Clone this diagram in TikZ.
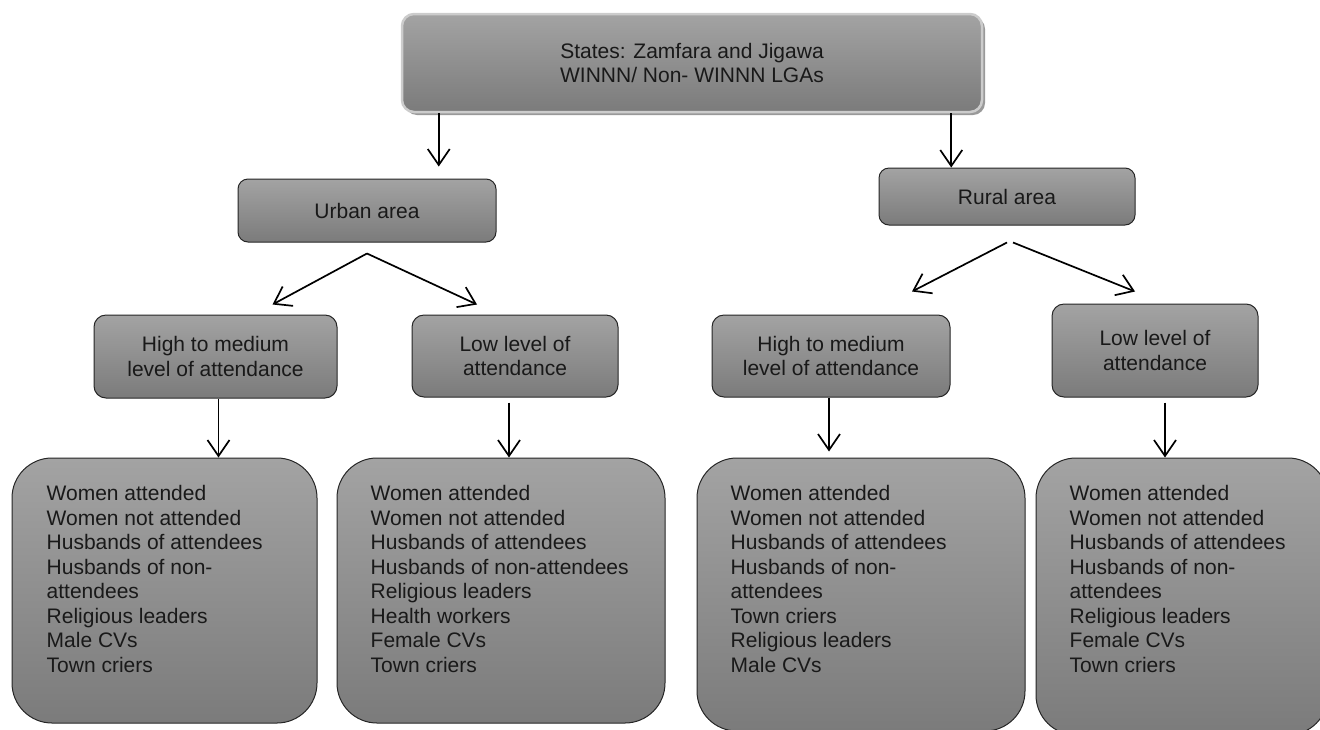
\documentclass[tikz,border=0pt]{standalone}
\usepackage{fontspec}
\setmainfont{Liberation Sans}
\usetikzlibrary{
  arrows.meta, % For arrow tips
  shadows % For the shadow of the top box
}
\definecolor{boxtop}{HTML}{A3A3A3}
\definecolor{boxbottom}{HTML}{7B7B7B}
\newcommand{\boxfont}{\fontsize{21}{24.5}\selectfont}

\begin{document}
\begin{tikzpicture}[
    x=1pt, y=-1pt, % pixel units, y downwards
    >={Straight Barb[length=16pt, width=22pt]}, % Default arrow tip
    arr/.style={->, line width=1.7pt}, % Style for the arrows
    box/.style={draw=black!85, line width=1pt, top color=boxtop,
      bottom color=boxbottom, rounded corners=12pt, align=center,
      font=\boxfont, text=black!90, inner sep=0pt},
    headbox/.style={box, draw=black!20, line width=2.5pt,
      drop shadow={shadow xshift=3pt, shadow yshift=-3pt, fill=black!40, opacity=1}},
    listbox/.style={box, rounded corners=40pt},
    listtext/.style={anchor=north west, align=left, font=\boxfont,
      text=black!90, inner sep=0pt},
  ]
    \useasboundingbox (0,0) rectangle (1320,729);
    % Kopf
    \node[headbox, minimum width=580pt, minimum height=98pt] (states) at (692,63)
      {States: Zamfara and Jigawa\\WINNN/ Non- WINNN LGAs};
    % Gebiete
    \node[box, rounded corners=10pt, minimum width=258pt, minimum height=63pt]
      (urban) at (367,210.5) {Urban area};
    \node[box, rounded corners=10pt, minimum width=256pt, minimum height=57pt]
      (rural) at (1007,196.5) {Rural area};
    % Teilnahme
    \node[box, minimum width=243pt, minimum height=83pt] (uhigh) at (215.5,356.5)
      {High to medium\\level of attendance};
    \node[box, minimum width=206pt, minimum height=82pt] (ulow) at (515,356)
      {Low level of\\attendance};
    \node[box, minimum width=238pt, minimum height=82pt] (rhigh) at (831,356)
      {High to medium\\level of attendance};
    \node[box, minimum width=206pt, minimum height=93pt] (rlow) at (1155,350.5)
      {Low level of\\attendance};
    % Listen
    \node[listbox, minimum width=305pt, minimum height=265pt] (ulist1) at (164.5,590.5) {};
    \node[listbox, minimum width=328pt, minimum height=265pt] (ulist2) at (501,590.5) {};
    \node[listbox, minimum width=328pt, minimum height=273pt] (rlist1) at (861,594.5) {};
    \node[listbox, minimum width=292pt, minimum height=277pt] (rlist2) at (1182,596.5) {};
    \node[listtext] (ulist1txt) at ([shift={(35,28)}]ulist1.north west)
      {Women attended\\Women not attended\\Husbands of attendees\\Husbands of non-\\attendees\\Religious leaders\\Male CVs\\Town criers};
    \node[listtext] (ulist2txt) at ([shift={(34,28)}]ulist2.north west)
      {Women attended\\Women not attended\\Husbands of attendees\\Husbands of non-attendees\\Religious leaders\\Health workers\\Female CVs\\Town criers};
    \node[listtext] (rlist1txt) at ([shift={(34,28)}]rlist1.north west)
      {Women attended\\Women not attended\\Husbands of attendees\\Husbands of non-\\attendees\\Town criers\\Religious leaders\\Male CVs};
    \node[listtext] (rlist2txt) at ([shift={(34,28)}]rlist2.north west)
      {Women attended\\Women not attended\\Husbands of attendees\\Husbands of non-\\attendees\\Religious leaders\\Female CVs\\Town criers};
    % Pfeile
    \draw[arr, shorten >=12pt] ([xshift=38pt]states.south west)
      -- ([xshift=38pt]states.south west |- urban.north);
    \draw[arr] ([xshift=-32pt]states.south east)
      -- ([xshift=-32pt]states.south east |- rural.north);
    \coordinate (usplit) at ([yshift=-11pt]urban.south);
    \draw[arr] (usplit) -- ([shift={(57,-10)}]uhigh.north);
    \draw[arr] (usplit) -- ([shift={(-38,-10)}]ulow.north);
    \coordinate (rsplit) at ([yshift=-17pt]rural.south);
    \draw[arr] (rsplit) -- ([shift={(81,-23)}]rhigh.north);
    \draw[arr] ([xshift=6pt]rsplit) -- ([shift={(-20,-12)}]rlow.north);
    \draw[arr] ([xshift=3pt]uhigh.south) -- ([xshift=3pt]uhigh.south |- ulist1.north);
    \draw[arr] ([shift={(-6,5)}]ulow.south) -- ([xshift=-6pt]ulow.south |- ulist2.north);
    \draw[arr, shorten >=6pt] ([xshift=-2pt]rhigh.south) -- ([xshift=-2pt]rhigh.south |- rlist1.north);
    \draw[arr] ([shift={(10,5)}]rlow.south) -- ([xshift=10pt]rlow.south |- rlist2.north);
  \end{tikzpicture}
\end{document}
